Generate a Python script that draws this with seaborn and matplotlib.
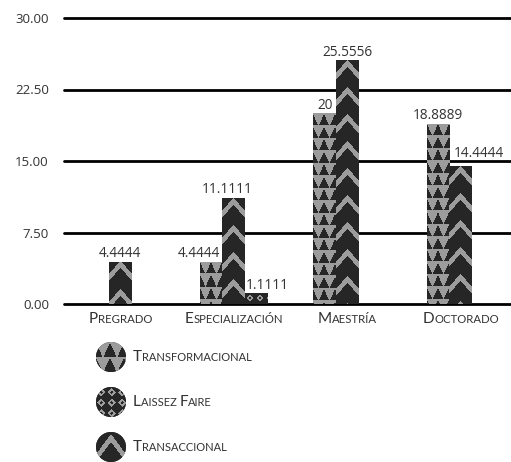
import numpy as np
import pandas as pd
import matplotlib
matplotlib.use("Agg")
import matplotlib.pyplot as plt
from matplotlib.colors import to_rgb
from matplotlib.patches import Circle
from matplotlib.offsetbox import TextArea, HPacker, AnnotationBbox
import seaborn as sns

# --- data -------------------------------------------------------------
categories = ["Pregrado", "Especialización", "Maestría", "Doctorado"]
series = ["Transformacional", "Transaccional", "Laissez Faire"]
legend_order = ["Transformacional", "Laissez Faire", "Transaccional"]
transformacional = [None, 4.4444, 20, 18.8889]
transaccional = [4.4444, 11.1111, 25.5556, 14.4444]
laissez_faire = [None, 1.1111, None, None]
y_ticks = [0, 7.5, 15, 22.5, 30]

# --- style ------------------------------------------------------------
DARK = "#262626"
LIGHT = "#9c9c9c"
TEXT = "#333333"
NUM_FONT = "Open Sans"
CAPS_FONT = "Lato"

sns.set_style("white")
plt.rcParams["font.family"] = [NUM_FONT, "DejaVu Sans"]

rows = []
for name, vals in zip(series, [transformacional, transaccional, laissez_faire]):
    for cat, v in zip(categories, vals):
        if v is not None:
            rows.append({"nivel": cat, "estilo": name, "valor": v})
df = pd.DataFrame(rows)


# --- fill patterns (pixel based) -------------------------------------
def _grid(h, w):
    yy, xx = np.mgrid[0:h, 0:w].astype(float) + 0.5
    return yy, xx


def triangles(h, w, tw=11, th=12.5):
    yy, xx = _grid(h, w)
    u = np.mod(xx + tw / 2, tw) - tw / 2
    v = np.mod(yy, th)
    dark = (np.abs(u) <= 0.95 * (tw / 2) * (v - 1) / (th - 1)) & (v >= 1)
    return ~dark   # True = light


def chevrons(h, w, period=27, band=7, slope=1.1, top=0):
    yy, xx = _grid(h, w)
    d = yy - top - slope * np.abs(xx - w / 2)
    return np.mod(d, period) < band


def diamonds(h, w, tile=10, inner=1.6, outer=3.9):
    yy, xx = _grid(h, w)
    u = np.mod(xx, tile) - tile / 2
    v = np.mod(yy, tile) - tile / 2
    r = np.abs(u) + np.abs(v)
    return (r >= inner) & (r <= outer)


PATTERNS = {"Transformacional": triangles,
            "Transaccional": chevrons,
            "Laissez Faire": diamonds}

# larger motifs inside the legend swatches
LEGEND_PATTERN_ARGS = {"Transformacional": dict(tw=14, th=15),
                       "Transaccional": dict(period=60, band=8, slope=1.35, top=2),
                       "Laissez Faire": dict(tile=10.5, inner=1.6, outer=4.0)}


def pattern_image(name, h, w, **kw):
    light = PATTERNS[name](max(h, 1), max(w, 1), **kw)
    img = np.empty(light.shape + (3,))
    img[:] = to_rgb(DARK)
    img[light] = to_rgb(LIGHT)
    return img


def small_caps(text, big, small, color=TEXT, family=CAPS_FONT):
    parts, run, run_big = [], "", None
    for ch in text:
        is_big = ch.isupper()
        if run and is_big != run_big:
            parts.append((run, run_big))
            run = ""
        run += ch.upper()
        run_big = is_big
    parts.append((run, run_big))
    kids = [TextArea(t, textprops=dict(fontsize=big if b else small,
                                       color=color, family=family))
            for t, b in parts]
    return HPacker(children=kids, align="baseline", pad=0, sep=0)


# --- figure -----------------------------------------------------------
W, H = 511, 462
fig = plt.figure(figsize=(W / 100, H / 100), dpi=100)
left_px, step_px = 63.5, 113.5
bottom_px, top_px = 304, 18
ax = fig.add_axes([left_px / W, 1 - bottom_px / H,
                   4 * step_px / W, (bottom_px - top_px) / H])

sns.barplot(data=df, x="nivel", y="valor", hue="estilo",
            order=categories, hue_order=series, palette=[DARK] * 3,
            width=0.595, gap=0, dodge=True, errorbar=None, saturation=1,
            legend=False, edgecolor="none", linewidth=0, ax=ax, zorder=1)

ax.set_xlim(-0.5, 3.5)
ax.set_ylim(0, 30)
for s in ax.spines.values():
    s.set_visible(False)
ax.set_xlabel("")
ax.set_ylabel("")
ax.set_xticks(range(len(categories)))
ax.set_xticklabels([])
ax.set_yticks(y_ticks)
ax.set_yticklabels([f"{t:.2f}" for t in y_ticks], fontsize=9.5, color=TEXT,
                   family=NUM_FONT)
ax.tick_params(axis="both", length=0)
ax.tick_params(axis="y", pad=10.5)
ax.set_facecolor("none")

for t in y_ticks:
    ax.axhline(t, color="black", lw=2, zorder=0.5, clip_on=False)

# pattern fills clipped to each bar
label_nudge = {("Especialización", "Transformacional"): (-9, 0),
               ("Especialización", "Transaccional"): (-5, 0),
               ("Especialización", "Laissez Faire"): (8, 0),
               ("Doctorado", "Transaccional"): (13, 3)}

for name, cont in zip(series, ax.containers):
    for patch in cont.patches:
        x0, y0 = patch.get_x(), patch.get_y()
        bw, bh = patch.get_width(), patch.get_height()
        (px0, py0), (px1, py1) = ax.transData.transform([[x0, y0], [x0 + bw, y0 + bh]])
        img = pattern_image(name, int(round(py1 - py0)), int(round(px1 - px0)))
        im = ax.imshow(img, extent=(x0, x0 + bw, y0, y0 + bh), origin="upper",
                       interpolation="nearest", aspect="auto", zorder=1.5)
        im.set_clip_path(patch)
    anns = ax.bar_label(cont, fmt=lambda v: f"{v:.4f}".rstrip("0").rstrip("."),
                        padding=0.5, fontsize=9.8, color=TEXT, family=NUM_FONT,
                        zorder=3)
    for patch, ann in zip(cont.patches, anns):
        cat = categories[int(round(patch.get_x() + patch.get_width() / 2))]
        dx, dy = label_nudge.get((cat, name), (0, 0))
        ann.xyann = (dx, 0.5 + dy)

ax.set_xlim(-0.5, 3.5)
ax.set_ylim(0, 30)

# category labels in small caps
for i, cat in enumerate(categories):
    ab = AnnotationBbox(small_caps(cat, 11, 8.2), (i, 0),
                        xycoords=("data", "axes fraction"),
                        xybox=(0, -6), boxcoords="offset points",
                        box_alignment=(0.5, 1), frameon=False, pad=0)
    ax.add_artist(ab)

# legend drawn in pixel space below the chart
lax = fig.add_axes([0, 0, 1, 140 / H])
lax.set_xlim(0, W)
lax.set_ylim(H, H - 140)
lax.axis("off")
cx, r = 111, 15
for k, name in enumerate(legend_order):
    cy = 357 + 45 * k
    circ = Circle((cx, cy), r, facecolor=DARK, edgecolor="none", zorder=1)
    lax.add_patch(circ)
    im = lax.imshow(pattern_image(name, 2 * r, 2 * r, **LEGEND_PATTERN_ARGS[name]),
                    extent=(cx - r, cx + r, cy + r, cy - r), origin="upper",
                    interpolation="nearest", aspect="auto", zorder=2)
    im.set_clip_path(circ)
    ab = AnnotationBbox(small_caps(name, 11, 8.0), (cx + 22, cy),
                        xycoords="data", box_alignment=(0, 0.5),
                        frameon=False, pad=0)
    lax.add_artist(ab)
lax.set_xlim(0, W)
lax.set_ylim(H, H - 140)

fig.savefig("out.png", dpi=100)
